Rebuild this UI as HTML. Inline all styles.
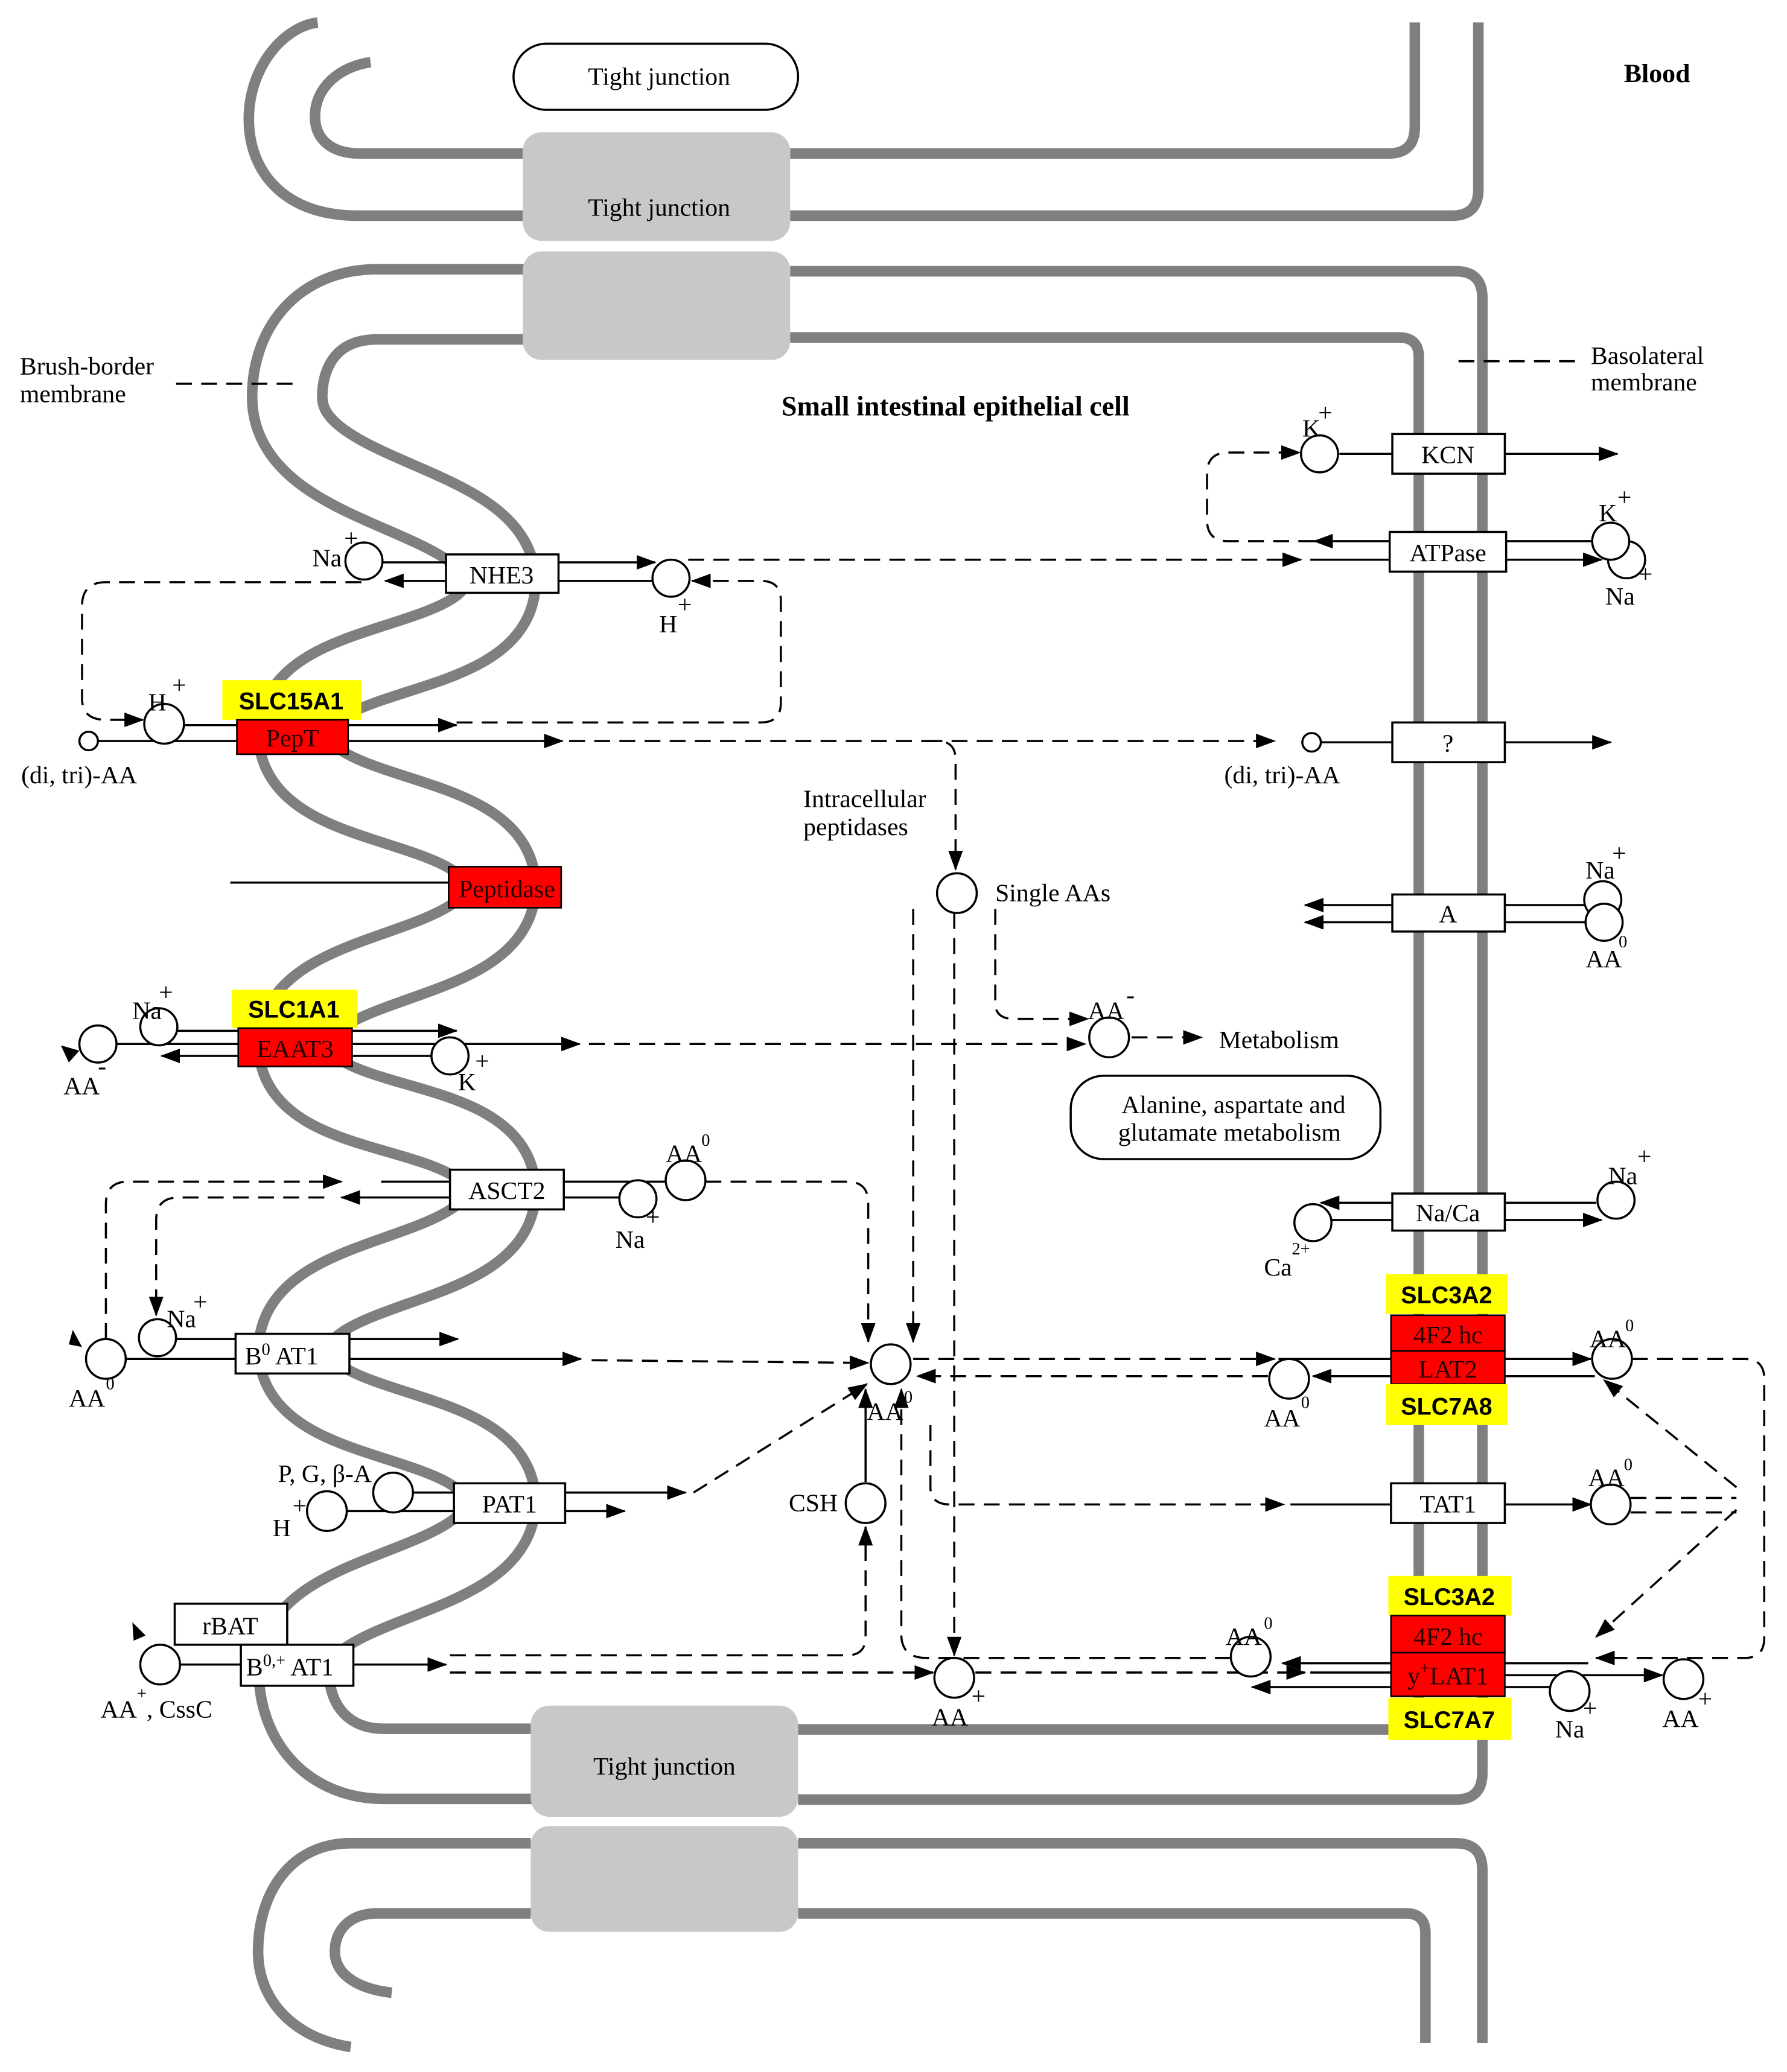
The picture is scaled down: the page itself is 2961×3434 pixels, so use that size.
<!DOCTYPE html>
<html><head><meta charset="utf-8">
<style>
html,body{margin:0;padding:0;background:#fff;}
svg{display:block;}
.s{stroke:#000;stroke-width:1.6;fill:none;}
.d{stroke-dasharray:12,7;}
.c{fill:#fff;stroke:#000;stroke-width:1.6;}
.m{stroke:#7f7f7f;stroke-width:8;fill:none;}
.bx{fill:#fff;stroke:#000;stroke-width:1.6;}
.rd{fill:#f00;stroke:#000;stroke-width:1.2;}
.yl{fill:#ff0;}
text{font-family:"Liberation Serif",serif;font-size:19px;fill:#000;}
.t{text-anchor:middle;}
.g{font-family:"Liberation Sans",sans-serif;font-weight:bold;font-size:18px;text-anchor:middle;}
.r{fill:#200;}
.sp{font-size:13px;}
</style></head><body>
<svg width="2961" height="3434" viewBox="0 0 1350.2 1565.9" preserveAspectRatio="none" xmlns="http://www.w3.org/2000/svg">
<defs>
<marker id="a" markerUnits="userSpaceOnUse" markerWidth="15" markerHeight="11" refX="14" refY="5.5" orient="auto"><path d="M0,0 L15,5.5 L0,11 z" fill="#000"/></marker>
</defs>
<rect width="1350.2" height="1565.9" fill="#fff"/>

<!-- membranes -->
<path d="M400,230 L285,230 C240,230 217,262 217,300 C217,375 378,375 378,440 C378,505 222,490 222,555 C222,620 378,605 378,670 C378,735 222,725 222,790 C222,855 378,835 378,900 C378,965 222,955 222,1020 C222,1085 378,1070 378,1135 C378,1200 222,1195 222,1262 C222,1305 250,1333 290,1333 L402,1333" stroke="#7f7f7f" stroke-width="61" fill="none"/>
<path d="M400,230 L285,230 C240,230 217,262 217,300 C217,375 378,375 378,440 C378,505 222,490 222,555 C222,620 378,605 378,670 C378,735 222,725 222,790 C222,855 378,835 378,900 C378,965 222,955 222,1020 C222,1085 378,1070 378,1135 C378,1200 222,1195 222,1262 C222,1305 250,1333 290,1333 L402,1333" stroke="#fff" stroke-width="45" fill="none"/>
<path class="m" d="M395,163 L270,163 C215,163 188,130 188,90 C188,50 215,20 240,17"/>
<path class="m" d="M395,116 L272,116 C250,116 238,105 238,88 C238,65 258,50 280,47"/>
<path class="m" d="M597,116 L1049,116 Q1069,116 1069,96 L1069,17"/>
<path class="m" d="M597,163 L1097,163 Q1117,163 1117,143 L1117,17"/>
<path class="m" d="M597,205 L1100,205 Q1120,205 1120,225 L1120,1340 Q1120,1360 1100,1360 L603,1360"/>
<path class="m" d="M597,255 L1057,255 Q1072,255 1072,270 L1072,1307 L603,1307"/>
<path class="m" d="M603,1393 L1100,1393 Q1120,1393 1120,1413 L1120,1544"/>
<path class="m" d="M603,1446 L1062,1446 Q1077,1446 1077,1461 L1077,1544"/>
<path class="m" d="M401,1393 L265,1393 C220,1393 195,1430 195,1475 C195,1510 220,1540 265,1547"/>
<path class="m" d="M401,1446 L285,1446 C265,1446 253,1458 253,1475 C253,1492 270,1503 296,1506"/>

<!-- tight junctions -->
<rect x="388" y="33" width="215" height="50" rx="25" class="bx"/>
<text x="498" y="64" class="t">Tight junction</text>
<rect x="395" y="100" width="202" height="82" rx="14" fill="#c8c8c8"/>
<rect x="395" y="190" width="202" height="82" rx="14" fill="#c8c8c8"/>
<text x="498" y="163" class="t">Tight junction</text>
<rect x="401" y="1289" width="202" height="84" rx="14" fill="#c8c8c8"/>
<rect x="401" y="1380" width="202" height="80" rx="14" fill="#c8c8c8"/>
<text x="502" y="1341" class="t">Tight junction</text>

<text x="1252" y="62" class="t" style="font-weight:bold;font-size:20px">Blood</text>
<text x="15" y="283">Brush-border</text><text x="15" y="304">membrane</text>
<path class="s d" d="M133,290 L228,290"/>
<text x="1202" y="275">Basolateral</text><text x="1202" y="295">membrane</text>
<path class="s d" d="M1102,273 L1192,273"/>
<text x="722" y="314" class="t" style="font-weight:bold;font-size:21px">Small intestinal epithelial cell</text>

<!-- NHE3 -->
<path class="s" d="M289,425 L337,425"/>
<path class="s" d="M422,425 L495,425" marker-end="url(#a)"/>
<path class="s" d="M337,439 L291,439" marker-end="url(#a)"/>
<path class="s" d="M422,439 L493,439"/>
<path class="s d" d="M520,423 L983,423" marker-end="url(#a)"/>
<path class="s" d="M990,423 L1050,423"/>
<path class="s d" d="M273,440 L80,440 Q62,440 62,458 L62,528 Q62,544 80,544 L108,544" marker-end="url(#a)"/>
<path class="s d" d="M345,546 L575,546 Q590,546 590,531 L590,454 Q590,439 575,439 L523,439" marker-end="url(#a)"/>
<rect x="337" y="419" width="85" height="29" class="bx"/><text x="379" y="441" class="t">NHE3</text>
<circle cx="275" cy="424" r="14" class="c"/><text x="236" y="428">Na</text><text x="260" y="413">+</text>
<circle cx="507" cy="437" r="14" class="c"/><text x="498" y="478">H</text><text x="512" y="463">+</text>

<!-- PepT -->
<path class="s" d="M139,548 L179,548"/><path class="s" d="M263,548 L345,548" marker-end="url(#a)"/>
<path class="s" d="M74,560 L179,560"/><path class="s" d="M263,560 L425,560" marker-end="url(#a)"/>
<path class="s d" d="M430,560 L708,560 Q722,560 722,574 L722,657" marker-end="url(#a)"/>
<path class="s d" d="M700,560 L963,560" marker-end="url(#a)"/>
<rect x="168" y="514" width="105" height="30" class="yl"/><text x="220" y="536" class="g">SLC15A1</text>
<rect x="179" y="544" width="84" height="26" class="rd"/><text x="221" y="564" class="t r">PepT</text>
<circle cx="124" cy="547" r="15" class="c"/><text x="112" y="537">H</text><text x="130" y="524">+</text>
<circle cx="67" cy="560" r="7" class="c"/><text x="16" y="592">(di, tri)-AA</text>

<!-- Peptidase -->
<path class="s" d="M174,667 L339,667"/>
<rect x="339" y="655" width="85" height="31" class="rd"/><text x="383" y="678" class="t r">Peptidase</text>

<!-- EAAT3 -->
<path class="s" d="M134,779 L180,779"/><path class="s" d="M266,779 L345,779" marker-end="url(#a)"/>
<path class="s" d="M88,789 L180,789"/><path class="s" d="M266,789 L438,789" marker-end="url(#a)"/>
<path class="s" d="M180,798 L122,798" marker-end="url(#a)"/><path class="s" d="M266,798 L326,798"/>
<path class="s d" d="M445,789 L820,789" marker-end="url(#a)"/>
<rect x="175" y="748" width="95" height="29" class="yl"/><text x="222" y="769" class="g">SLC1A1</text>
<rect x="180" y="777" width="86" height="29" class="rd"/><text x="223" y="799" class="t r">EAAT3</text>
<circle cx="120" cy="776" r="14" class="c"/><text x="100" y="770">Na</text><text x="120" y="756">+</text>
<circle cx="74" cy="789" r="14" class="c"/><text x="48" y="827">AA</text><text x="74" y="812">-</text>
<polygon points="46,790 60,794 52,803" fill="#000"/>
<circle cx="340" cy="798" r="14" class="c"/><text x="346" y="824">K</text><text x="359" y="808">+</text>

<!-- Single AAs / metabolism -->
<circle cx="723" cy="675" r="15" class="c"/><text x="752" y="681">Single AAs</text>
<text x="607" y="610">Intracellular</text><text x="607" y="631">peptidases</text>
<path class="s d" d="M752,687 L752,758 Q752,770 766,770 L822,770" marker-end="url(#a)"/>
<circle cx="838" cy="784" r="15" class="c"/><text x="822" y="770">AA</text><text x="851" y="758">-</text>
<path class="s d" d="M855,784 L908,784" marker-end="url(#a)"/>
<text x="921" y="792">Metabolism</text>
<rect x="809" y="813" width="234" height="63" rx="25" class="bx"/>
<text x="932" y="841" class="t">Alanine, aspartate and</text><text x="929" y="862" class="t">glutamate metabolism</text>

<!-- ASCT2 -->
<path class="s" d="M288,893 L340,893 M426,893 L505,893 M426,905 L470,905"/>
<path class="s" d="M340,905 L258,905" marker-end="url(#a)"/>
<path class="s d" d="M80,1012 L80,910 Q80,893 97,893 L258,893" marker-end="url(#a)"/>
<path class="s d" d="M245,905 L135,905 Q118,905 118,922 L118,994" marker-end="url(#a)"/>
<path class="s d" d="M533,893 L640,893 Q656,893 656,909 L656,1014" marker-end="url(#a)"/>
<rect x="340" y="884" width="86" height="30" class="bx"/><text x="383" y="906" class="t">ASCT2</text>
<circle cx="482" cy="906" r="14" class="c"/><text x="465" y="943">Na</text><text x="488" y="926">+</text>
<circle cx="518" cy="892" r="15" class="c"/><text x="503" y="878">AA</text><text x="530" y="866" class="sp">0</text>

<!-- B0AT1 -->
<path class="s" d="M133,1012 L178,1012"/><path class="s" d="M264,1012 L346,1012" marker-end="url(#a)"/>
<path class="s" d="M95,1027 L178,1027"/><path class="s" d="M264,1027 L439,1027" marker-end="url(#a)"/>
<path class="s d" d="M447,1028 L656,1030" marker-end="url(#a)"/>
<rect x="178" y="1008" width="86" height="30" class="bx"/><text x="185" y="1031">B<tspan dy="-7" class="sp">0</tspan><tspan dy="7"> AT1</tspan></text>
<circle cx="119" cy="1011" r="14" class="c"/><text x="126" y="1003">Na</text><text x="146" y="990">+</text>
<circle cx="80" cy="1027" r="15" class="c"/><text x="52" y="1063">AA</text><text x="80" y="1050" class="sp">0</text>
<polygon points="55,1005 62,1018 52,1016" fill="#000"/>

<!-- center AA0 -->
<path class="s d" d="M958,1040 L693,1040" marker-end="url(#a)"/>
<path class="s d" d="M690,1027 L963,1027" marker-end="url(#a)"/>
<path class="s d" d="M690,687 L690,1014" marker-end="url(#a)"/>
<path class="s" d="M654,1120 L654,1050" marker-end="url(#a)"/>
<path class="s d" d="M340,1251 L640,1251 Q654,1251 654,1237 L654,1154" marker-end="url(#a)"/>
<path class="s d" d="M930,1253 L700,1253 Q681,1253 681,1235 L681,1050" marker-end="url(#a)"/>
<path class="s d" d="M524,1128 L655,1046" marker-end="url(#a)"/>
<path class="s d" d="M703,1077 L703,1124 Q703,1137 718,1137 L970,1137" marker-end="url(#a)"/>
<path class="s" d="M975,1137 L1051,1137"/>
<path class="s d" d="M721,690 L721,1251" marker-end="url(#a)"/>
<path class="s d" d="M340,1264 L705,1264" marker-end="url(#a)"/>
<path class="s d" d="M737,1264 L986,1264" marker-end="url(#a)"/>
<circle cx="673" cy="1031" r="15" class="c"/><text x="655" y="1073">AA</text><text x="683" y="1060" class="sp">0</text>
<circle cx="654" cy="1136" r="15" class="c"/><text x="596" y="1142">CSH</text>
<circle cx="721" cy="1268" r="15" class="c"/><text x="704" y="1304">AA</text><text x="734" y="1288">+</text>

<!-- PAT1 -->
<path class="s" d="M312,1128 L343,1128 M262,1142 L343,1142"/>
<path class="s" d="M427,1128 L518,1128" marker-end="url(#a)"/>
<path class="s" d="M427,1142 L472,1142" marker-end="url(#a)"/>
<rect x="343" y="1121" width="84" height="30" class="bx"/><text x="385" y="1143" class="t">PAT1</text>
<circle cx="297" cy="1128" r="15" class="c"/><circle cx="247" cy="1142" r="15" class="c"/>
<text x="210" y="1120">P, G, β-A</text><text x="206" y="1161">H</text><text x="221" y="1144">+</text>

<!-- rBAT -->
<path class="s" d="M136,1258 L182,1258"/><path class="s" d="M267,1258 L337,1258" marker-end="url(#a)"/>
<rect x="132" y="1212" width="85" height="31" class="bx"/><text x="174" y="1235" class="t">rBAT</text>
<rect x="182" y="1243" width="85" height="31" class="bx"/><text x="186" y="1266">B<tspan dy="-7" class="sp">0,+</tspan><tspan dy="7"> AT1</tspan></text>
<circle cx="121" cy="1258" r="15" class="c"/><polygon points="100,1226 110,1236 101,1240" fill="#000"/>
<text x="76" y="1298">AA<tspan dy="-14" class="sp">+</tspan><tspan dy="14">, CssC</tspan></text>

<!-- Right column -->
<path class="s" d="M1012,343 L1052,343"/><path class="s" d="M1137,343 L1222,343" marker-end="url(#a)"/>
<path class="s d" d="M993,409 L928,409 Q912,409 912,393 L912,358 Q912,342 928,342 L982,342" marker-end="url(#a)"/>
<rect x="1052" y="328" width="85" height="30" class="bx"/><text x="1094" y="350" class="t">KCN</text>
<circle cx="997" cy="343" r="14" class="c"/><text x="984" y="330">K</text><text x="996" y="318">+</text>

<path class="s" d="M1050,409 L993,409" marker-end="url(#a)"/>
<path class="s" d="M1138,409 L1204,409"/><path class="s" d="M1138,423 L1210,423" marker-end="url(#a)"/>
<rect x="1050" y="402" width="88" height="30" class="bx"/><text x="1094" y="424" class="t">ATPase</text>
<circle cx="1229" cy="423" r="14" class="c"/><circle cx="1217" cy="409" r="14" class="c"/>
<text x="1208" y="394">K</text><text x="1222" y="382">+</text><text x="1213" y="457">Na</text><text x="1238" y="440">+</text>

<circle cx="991" cy="561" r="7" class="c"/>
<path class="s" d="M998,561 L1052,561"/><path class="s" d="M1137,561 L1217,561" marker-end="url(#a)"/>
<rect x="1052" y="546" width="85" height="30" class="bx"/><text x="1094" y="568" class="t">?</text>
<text x="925" y="592">(di, tri)-AA</text>

<path class="s" d="M1052,684 L986,684" marker-end="url(#a)"/><path class="s" d="M1052,697 L986,697" marker-end="url(#a)"/>
<path class="s" d="M1137,684 L1198,684 M1137,697 L1198,697"/>
<rect x="1052" y="676" width="85" height="28" class="bx"/><text x="1094" y="697" class="t">A</text>
<circle cx="1211" cy="680" r="14" class="c"/><circle cx="1212" cy="697" r="14" class="c"/>
<text x="1198" y="664">Na</text><text x="1218" y="651">+</text><text x="1198" y="731">AA</text><text x="1223" y="716" class="sp">0</text>

<path class="s" d="M1052,909 L998,909" marker-end="url(#a)"/><path class="s" d="M1052,922 L1006,922"/>
<path class="s" d="M1137,909 L1206,909"/><path class="s" d="M1137,922 L1210,922" marker-end="url(#a)"/>
<rect x="1052" y="902" width="85" height="28" class="bx"/><text x="1094" y="923" class="t">Na/Ca</text>
<circle cx="992" cy="924" r="14" class="c"/><circle cx="1221" cy="907" r="14" class="c"/>
<text x="955" y="964">Ca</text><text x="976" y="948" class="sp">2+</text><text x="1215" y="895">Na</text><text x="1237" y="880">+</text>

<!-- LAT2 -->
<path class="s" d="M966,1027 L1051,1027"/><path class="s" d="M1051,1040 L992,1040" marker-end="url(#a)"/>
<path class="s" d="M1137,1027 L1202,1027" marker-end="url(#a)"/><path class="s" d="M1137,1040 L1205,1040"/>
<path class="s d" d="M1233,1027 L1318,1027 Q1333,1027 1333,1042 L1333,1238 Q1333,1253 1318,1253 L1206,1253" marker-end="url(#a)"/>
<path class="s d" d="M1312,1124 L1212,1043" marker-end="url(#a)"/>
<path class="s d" d="M1312,1141 L1206,1237" marker-end="url(#a)"/>
<rect x="1047" y="963" width="92" height="30" class="yl"/><text x="1093" y="985" class="g">SLC3A2</text>
<rect x="1051" y="994" width="86" height="27" class="rd"/><text x="1094" y="1015" class="t r">4F2 hc</text>
<rect x="1051" y="1021" width="86" height="25" class="rd"/><text x="1094" y="1041" class="t r">LAT2</text>
<rect x="1047" y="1046" width="92" height="31" class="yl"/><text x="1093" y="1069" class="g">SLC7A8</text>
<circle cx="974" cy="1042" r="15" class="c"/><text x="955" y="1078">AA</text><text x="983" y="1064" class="sp">0</text>
<circle cx="1218" cy="1027" r="15" class="c"/><text x="1201" y="1018">AA</text><text x="1228" y="1006" class="sp">0</text>

<!-- TAT1 -->
<path class="s" d="M1137,1137 L1202,1137" marker-end="url(#a)"/>
<path class="s d" d="M1232,1132 L1312,1132 M1232,1143 L1312,1143"/>
<rect x="1051" y="1121" width="86" height="30" class="bx"/><text x="1094" y="1143" class="t">TAT1</text>
<circle cx="1217" cy="1137" r="15" class="c"/><text x="1200" y="1123">AA</text><text x="1227" y="1111" class="sp">0</text>

<!-- LAT1 -->
<path class="s" d="M1051,1257 L969,1257" marker-end="url(#a)"/>
<path class="s" d="M990,1264 L1051,1264"/>
<path class="s" d="M1051,1275 L946,1275" marker-end="url(#a)"/>
<path class="s" d="M1137,1257 L1200,1257"/><path class="s" d="M1137,1266 L1256,1266" marker-end="url(#a)"/><path class="s" d="M1137,1275 L1172,1275"/>
<rect x="1049" y="1191" width="93" height="30" class="yl"/><text x="1095" y="1213" class="g">SLC3A2</text>
<rect x="1051" y="1221" width="86" height="28" class="rd"/><text x="1094" y="1243" class="t r">4F2 hc</text>
<rect x="1051" y="1249" width="86" height="33" class="rd"/><text x="1094" y="1273" class="t r">y<tspan dy="-8" class="sp">+</tspan><tspan dy="8">LAT1</tspan></text>
<rect x="1049" y="1283" width="93" height="32" class="yl"/><text x="1095" y="1306" class="g">SLC7A7</text>
<circle cx="945" cy="1252" r="15" class="c"/><text x="926" y="1243">AA</text><text x="955" y="1231" class="sp">0</text>
<circle cx="1186" cy="1278" r="15" class="c"/><text x="1175" y="1313">Na</text><text x="1196" y="1297">+</text>
<circle cx="1272" cy="1269" r="15" class="c"/><text x="1256" y="1305">AA</text><text x="1283" y="1290">+</text>
</svg>
</body></html>
